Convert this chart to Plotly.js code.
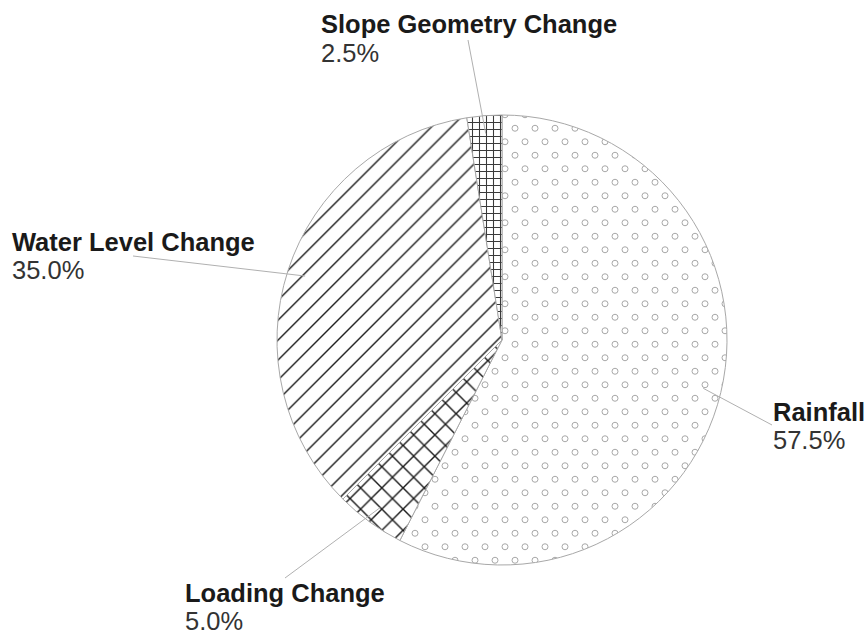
<!DOCTYPE html>
<html>
<head>
<meta charset="utf-8">
<script src="https://cdn.plot.ly/plotly-3.0.1.min.js"></script>
<style>
  html, body { margin: 0; padding: 0; background: #fff; }
  #chart { width: 868px; height: 634px; }
</style>
</head>
<body>
<div id="chart"></div>
<script>
// Share of landslide triggers, clockwise from 12 o'clock
const categories = ['Rainfall', 'Loading Change', 'Water Level Change', 'Slope Geometry Change'];
const shares = [57.5, 5.0, 35.0, 2.5];
const hatchShapes = ['.', 'x', '/', '+'];

// canvas and pie geometry (pixels)
const W = 868, H = 634;
const CX = 502, CY = 340, R = 225;

// label placement: text left edge, baseline of name, baseline of percent, leader end point
const labelLayout = [
  { x: 773, name: 421, pct: 449, end: [772, 425] },
  { x: 185, name: 602, pct: 630, end: [285, 578] },
  { x: 12,  name: 251, pct: 279, end: [133, 256] },
  { x: 321, name: 33,  pct: 62,  end: [468, 40] }
];

const FONT = 'Liberation Sans, Arial, Helvetica, sans-serif';
const FS = 25.5;
const px = v => v / W;
const py = v => 1 - v / H;

const total = shares.reduce((a, b) => a + b, 0);

const trace = {
  type: 'pie',
  labels: categories,
  values: shares,
  sort: false,
  direction: 'clockwise',
  rotation: 0,
  textinfo: 'none',
  hoverinfo: 'label+percent',
  showlegend: false,
  domain: { x: [px(CX - R), px(CX + R)], y: [py(CY + R), py(CY - R)] },
  marker: {
    colors: ['#ffffff', '#ffffff', '#ffffff', '#ffffff'],
    line: { color: '#a8a8a8', width: 1 },
    pattern: {
      shape: hatchShapes,
      fillmode: 'overlay',
      bgcolor: '#ffffff',
      fgcolor: ['#a0a0a0', '#1a1a1a', '#1e1e1e', '#3a3a3a'],
      fgopacity: 1,
      size: [14, 15, 14.1, 7],
      solidity: [0.1, 0.18, 0.1, 0.28]
    }
  }
};

// labels and leader lines
const annotations = [];
const shapes = [];
let cum = 0;
categories.forEach((name, i) => {
  const mid = (cum + shares[i] / 2) / total;
  cum += shares[i];
  const theta = 2 * Math.PI * mid;
  const sx = CX + 0.92 * R * Math.sin(theta);
  const sy = CY - 0.92 * R * Math.cos(theta);
  const L = labelLayout[i];
  shapes.push({
    type: 'line', xref: 'paper', yref: 'paper',
    x0: px(sx), y0: py(sy), x1: px(L.end[0]), y1: py(L.end[1]),
    line: { color: '#b0b0b0', width: 1 }
  });
  annotations.push({
    xref: 'paper', yref: 'paper', showarrow: false,
    x: px(L.x - 2), y: py(L.name - 0.35 * FS),
    xanchor: 'left', yanchor: 'middle',
    text: '<b>' + name + '</b>',
    font: { family: FONT, size: FS, color: '#1a1a1a' }
  });
  annotations.push({
    xref: 'paper', yref: 'paper', showarrow: false,
    x: px(L.x - 2), y: py(L.pct - 0.35 * FS),
    xanchor: 'left', yanchor: 'middle',
    text: (shares[i] / total * 100).toFixed(1) + '%',
    font: { family: FONT, size: FS, color: '#333333' }
  });
});

const layout = {
  width: W, height: H,
  margin: { l: 0, r: 0, t: 0, b: 0 },
  paper_bgcolor: '#ffffff',
  plot_bgcolor: '#ffffff',
  showlegend: false,
  annotations: annotations,
  shapes: shapes
};

Plotly.newPlot('chart', [trace], layout, { staticPlot: true }).then(gd => {
  // turn the dot texture into staggered hollow rings
  gd.querySelectorAll('pattern').forEach(p => {
    const c = p.querySelector('circle');
    if (!c) return;
    const tw = 20, th = 27;
    p.setAttribute('width', tw);
    p.setAttribute('height', th);
    const rect = p.querySelector('rect');
    if (rect) { rect.setAttribute('width', tw); rect.setAttribute('height', th); }
    [[5, 6.75], [15, 20.25]].forEach((pos, k) => {
      const ring = k === 0 ? c : c.cloneNode(false);
      ring.setAttribute('cx', pos[0]);
      ring.setAttribute('cy', pos[1]);
      ring.setAttribute('r', 3);
      ring.setAttribute('fill', 'none');
      ring.style.fill = 'none';
      ring.setAttribute('stroke', '#a8a8a8');
      ring.setAttribute('stroke-width', 1);
      if (k > 0) p.appendChild(ring);
    });
  });
});
</script>
</body>
</html>
